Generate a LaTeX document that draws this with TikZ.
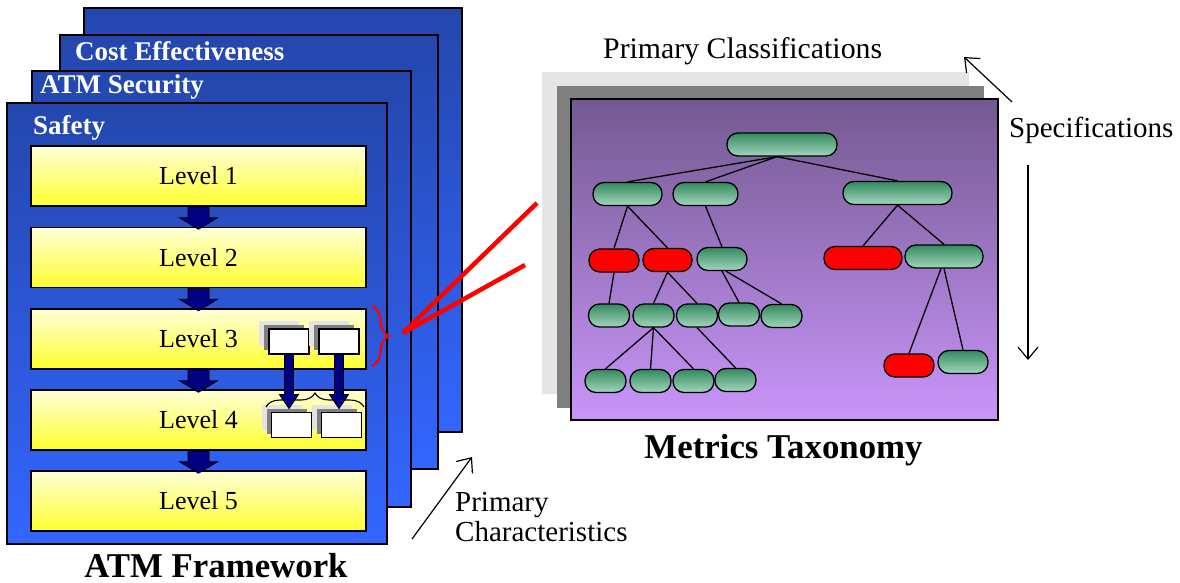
\documentclass[tikz,border=0pt]{standalone}
\usepackage{fontspec}
\setmainfont{Liberation Serif}
\usetikzlibrary{arrows.meta,decorations.pathreplacing,shadows,calc}

\definecolor{frametop}{HTML}{2447AD}
\definecolor{framebot}{HTML}{3366FF}
\definecolor{lvltop}{HTML}{FFFFD8}
\definecolor{lvlbot}{HTML}{FFFF2E}
\definecolor{navyarrow}{HTML}{000080}
\definecolor{purtop}{HTML}{735990}
\definecolor{purbot}{HTML}{C995F9}
\definecolor{pilltop}{HTML}{348A5E}
\definecolor{pillbot}{HTML}{A3D5BD}
\definecolor{shadelight}{HTML}{E3E3E3}
\definecolor{shadedark}{HTML}{808080}
\definecolor{sheetlight}{HTML}{E5E5E5}

\tikzset{
  frame/.style={draw=black, line width=1.5pt, top color=frametop, bottom color=framebot,
    anchor=north west, inner sep=0, outer sep=0},
  frametitle/.style={anchor=base west, text=white, inner sep=0,
    font=\fontsize{27}{30}\selectfont\bfseries},
  levelbox/.style={draw=black, line width=1.5pt, top color=lvltop, bottom color=lvlbot,
    minimum width=335pt, minimum height=60pt, inner sep=0,
    font=\fontsize{26}{30}\selectfont},
  smallbox/.style={draw=black, line width=1.2pt, fill=white, minimum width=40pt,
    minimum height=25pt, inner sep=0,
    copy shadow={shadow xshift=-10pt, shadow yshift=8pt, fill=shadelight, draw=none},
    copy shadow={shadow xshift=-5pt, shadow yshift=4pt, fill=shadedark, draw=none}},
  pill/.style={draw=black, line width=1.3pt, rounded corners=11pt, top color=pilltop,
    bottom color=pillbot, minimum height=23pt, inner sep=0},
  redpill/.style={pill, top color=red, bottom color=red},
  treeedge/.style={draw=black, line width=1.3pt},
  sheet/.style={anchor=north west, inner sep=0, outer sep=0},
  caption/.style={anchor=base west, inner sep=0, font=\fontsize{29}{32}\selectfont},
  bigtitle/.style={anchor=base, inner sep=0, font=\fontsize{34.8}{38}\selectfont\bfseries},
  thinarrow/.style={line width=1.2pt, -{Straight Barb[length=12pt,width=20pt]}},
  levelarrow/.pic={
    \path[draw=black, line width=0.8pt, fill=navyarrow]
      (-10.5,0) -- (10.5,0) -- (10.5,11) -- (19,11) -- (0,22.5) -- (-19,11)
      -- (-10.5,11) -- cycle;},
  tinyarrow/.pic={
    \path[draw=black, line width=0.8pt, fill=navyarrow]
      (-4.5,0) -- (4.5,0) -- (4.5,40) -- (9.5,40) -- (0,54) -- (-9.5,40)
      -- (-4.5,40) -- cycle;}
}

\begin{document}
\begin{tikzpicture}[x=1pt, y=-1pt]
\useasboundingbox[fill=white] (0,0) rectangle (1180,583);

% ---------- stacked framework sheets ----------
\node[frame, minimum width=378pt, minimum height=424pt] (f4) at (84,8) {};
\node[frame, minimum width=378pt, minimum height=434pt] (f3) at (60,35) {};
\node[frame, minimum width=379pt, minimum height=436pt] (f2) at (32,71) {};
\node[frame, minimum width=380pt, minimum height=441pt] (f1) at (7,103) {};

\node[frametitle] (t3) at (75,61) {Cost Effectiveness};
\node[frametitle] (t2) at (40,94) {ATM Security};
\node[frametitle] (t1) at (33,135) {Safety};

% ---------- levels ----------
\node[levelbox] (L1) at (198.5,176) {Level 1};
\node[levelbox] (L2) at (198.5,257.5) {Level 2};
\node[levelbox] (L3) at (198.5,339) {Level 3};
\node[levelbox] (L4) at (198.5,420) {Level 4};
\node[levelbox] (L5) at (198.5,501) {Level 5};

\foreach \i in {1,...,4} { \pic at (L\i.south) {levelarrow}; }

% ---------- elements inside levels 3 and 4 ----------
\node[smallbox] (b3a) at (289,341.5) {};
\node[smallbox] (b3b) at (339,341.5) {};
\node[smallbox] (b4a) at (291.5,425) {};
\node[smallbox] (b4b) at (341.5,425) {};

\coordinate (brl) at (266,407);
\coordinate (brr) at (364,407);
\draw[line width=1.1pt, decorate, decoration={brace, amplitude=14pt}] (brl) -- (brr);

\pic at (b3a.south) {tinyarrow};
\pic at (b3b.south) {tinyarrow};

% ---------- red brace and zoom lines ----------
\coordinate (rbt) at (372,306);
\coordinate (rbb) at (372,366);
\draw[red, line width=2.2pt, decorate, decoration={brace, amplitude=17pt}] (rbt) -- (rbb);

\coordinate (zoomtip) at (403,333);
\coordinate (zoomA) at (537,203);
\coordinate (zoomB) at (525,265);
\draw[red, line width=4.5pt] (zoomtip) -- (zoomA);
\draw[red, line width=4.5pt] (zoomtip) -- (zoomB);

% ---------- taxonomy sheets ----------
\node[sheet, fill=sheetlight, minimum width=427pt, minimum height=322pt] (s3) at (542,72) {};
\node[sheet, fill=shadedark, minimum width=427pt, minimum height=322pt] (s2) at (557,86) {};
\node[sheet, draw=black, line width=1.5pt, top color=purtop, bottom color=purbot,
      minimum width=427pt, minimum height=321pt] (s1) at (571,99) {};

% ---------- tree ----------
\node[pill, minimum width=110pt] (root) at (782,144.5) {};
\node[pill, minimum width=69pt] (A) at (627.5,194) {};
\node[pill, minimum width=65pt] (B) at (705.5,194) {};
\node[pill, minimum width=109pt] (C) at (897.5,193) {};

\node[redpill, minimum width=50pt] (R1) at (614,260.5) {};
\node[redpill, minimum width=49pt] (R2) at (667.5,260) {};
\node[pill, minimum width=50pt] (G3) at (722,259) {};
\node[redpill, minimum width=78pt] (R3) at (863,258) {};
\node[pill, minimum width=78pt] (G4) at (944,256.5) {};

\node[pill, minimum width=41pt] (Pa) at (609,315.5) {};
\node[pill, minimum width=41pt] (Pb) at (653.5,315.5) {};
\node[pill, minimum width=41pt] (Pc) at (697,315.5) {};
\node[pill, minimum width=41pt] (Pd) at (739,314.5) {};
\node[pill, minimum width=41pt] (Pe) at (781.5,316) {};

\node[pill, minimum width=41pt] (Qa) at (605.5,381) {};
\node[pill, minimum width=41pt] (Qb) at (650.5,381) {};
\node[pill, minimum width=41pt] (Qc) at (693.5,381) {};
\node[pill, minimum width=41pt] (Qd) at (735.5,380) {};
\node[redpill, minimum width=50pt] (R4) at (909,365.5) {};
\node[pill, minimum width=50pt] (G5) at (963,362) {};

\draw[treeedge] ([xshift=-5pt]root.south) -- (A.north);
\draw[treeedge] ([xshift=-5pt]root.south) -- (B.north);
\draw[treeedge] ([xshift=-5pt]root.south) -- (C.north);
\draw[treeedge] (A.south) -- (R1.north);
\draw[treeedge] (A.south) -- (R2.north);
\draw[treeedge] (B.south) -- (G3.north);
\draw[treeedge] (C.south) -- (R3.north);
\draw[treeedge] (C.south) -- (G4.north);
\draw[treeedge] (R1.south) -- (Pa.north);
\draw[treeedge] (R2.south) -- (Pb.north);
\draw[treeedge] (R2.south) -- (Pc.north);
\draw[treeedge] (G3.south) -- (Pd.north);
\draw[treeedge] ([xshift=4pt]G3.south) -- (Pe.north);
\draw[treeedge] (Pb.south) -- (Qa.north);
\draw[treeedge] (Pb.south) -- (Qb.north);
\draw[treeedge] (Pb.south) -- (Qc.north);
\draw[treeedge] (Pc.south) -- (Qd.north);
\draw[treeedge] ([xshift=-3pt]G4.south) -- (R4.north);
\draw[treeedge] (G4.south) -- (G5.north);

% ---------- captions and direction arrows ----------
\node[caption, font=\fontsize{29.8}{32}\selectfont] (pcl) at (603,59) {Primary Classifications};
\node[caption] (spec) at (1009,137) {Specifications};
\node[caption] (pch1) at (455,511) {Primary};
\node[caption] (pch2) at (455,541) {Characteristics};

\coordinate (sa1) at (1012,102);
\coordinate (sa2) at (964,57);
\coordinate (sd1) at (1028,165);
\coordinate (sd2) at (1028,360);
\coordinate (pa1) at (412,539);
\coordinate (pa2) at (472,457);
\draw[thinarrow] (sa1) -- (sa2);
\draw[thinarrow] (sd1) -- (sd2);
\draw[thinarrow] (pa1) -- (pa2);

\node[bigtitle] (mt) at (783.5,458) {Metrics Taxonomy};
\node[bigtitle] (af) at (216,577) {ATM Framework};
\end{tikzpicture}
\end{document}
